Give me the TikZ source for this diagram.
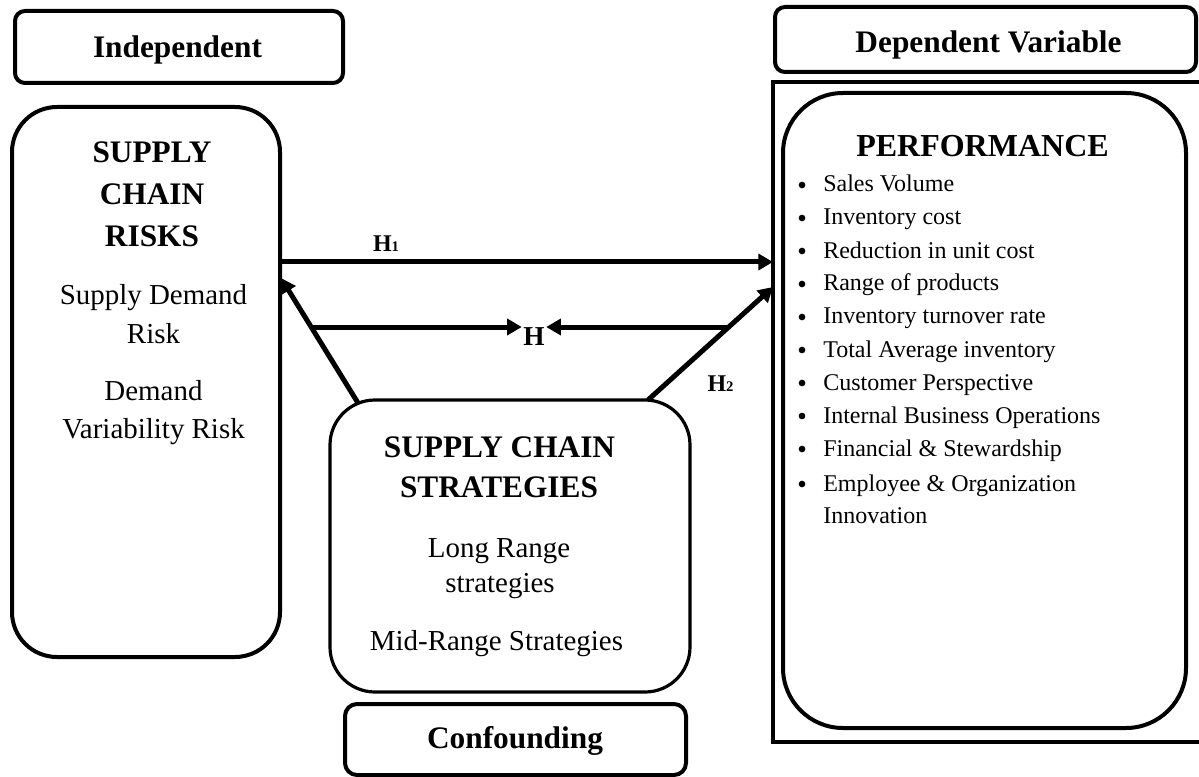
\documentclass[tikz,border=0pt]{standalone}
\usepackage{fontspec}
\setmainfont{Liberation Serif}
\usetikzlibrary{calc,arrows.meta}
\begin{document}
\begin{tikzpicture}[x=0.75pt,y=-0.75pt,
  box/.style={draw,line width=3pt,inner sep=0pt,outer sep=0pt,rectangle},
  thinbox/.style={box,line width=2.4pt},
  frameline/.style={line width=3pt},
  arr/.style={line width=3.75pt,-{Triangle[length=11pt,width=12pt]}},
  head/.style={font=\fontsize{23.5}{28}\selectfont\bfseries,anchor=base,inner sep=0pt},
  body/.style={font=\fontsize{21.7}{26}\selectfont,anchor=base,inner sep=0pt},
  itemtxt/.style={font=\fontsize{18}{22}\selectfont,anchor=base west,inner sep=0pt},
  bul/.style={circle,fill,inner sep=0pt,minimum size=5pt},
  lab/.style={font=\fontsize{18}{20}\selectfont\bfseries,anchor=base,inner sep=1pt},
  hlabel/.style={font=\fontsize{20.5}{22}\selectfont\bfseries,anchor=base,inner sep=1pt}]
\useasboundingbox (0,0) rectangle (1199,777);
% boxes
\node[box,rounded corners=7.5pt,minimum width=246pt,minimum height=54pt] (indep) at (179,47) {};
\node[box,rounded corners=33.75pt,minimum width=201pt,minimum height=412.5pt] (risks) at (146,382) {};
\node[box,rounded corners=7.5pt,minimum width=315.75pt,minimum height=48.75pt] (dep) at (985.5,39.5) {};
\node[inner sep=0pt,outer sep=0pt,minimum width=324pt,minimum height=495pt] (frame) at (989,412) {};
\draw[frameline] (frame.north east) -- (frame.north west) -- (frame.south west) -- (frame.south east);
\node[box,rounded corners=45pt,minimum width=302.25pt,minimum height=476.25pt] (perf) at (984.5,410.5) {};
\node[thinbox,rounded corners=33.75pt,minimum width=270pt,minimum height=219pt] (strat) at (510,546) {};
\node[box,rounded corners=9pt,minimum width=255.75pt,minimum height=53.25pt] (conf) at (515.5,739.5) {};
% texts
\node[head] (tindep) at (177.5,58) {Independent};
\node[head] (tdep) at (988.5,53) {Dependent Variable};
\node[head,font=\fontsize{24}{28}\selectfont\bfseries] (tperf) at (982.5,157) {PERFORMANCE};
\node[head] (r1) at (152,163) {SUPPLY};
\node[head] (r2) at (152,205) {CHAIN};
\node[head] (r3) at (152,247) {RISKS};
\node[body] (r4) at (153.5,305) {Supply Demand};
\node[body] (r5) at (153.5,343) {Risk};
\node[body] (r6) at (153.5,400) {Demand};
\node[body] (r7) at (153.5,438) {Variability Risk};
\node[head] (s1t) at (499.5,457) {SUPPLY CHAIN};
\node[head] (s2t) at (499,497) {STRATEGIES};
\node[body] (s3t) at (499,557) {Long Range};
\node[body] (s4t) at (500,592) {strategies};
\node[body] (s5t) at (496.5,650) {Mid-Range Strategies};
\node[head] (tconf) at (515,748) {Confounding};
% list
\foreach \t/\y [count=\i] in {Sales Volume/192,Inventory cost/225,Reduction in unit cost/258,Range of products/291,Inventory turnover rate/324,Total Average inventory/357,Customer Perspective/390,Internal Business Operations/423,Financial \& Stewardship/456,Employee \& Organization/491}{
  \node[bul] (b\i) at (802,\y-7) {};
  \node[itemtxt] (it\i) at (823,\y) {\t};
}
\node[itemtxt] (it11) at (823,523) {Innovation};
% labels
\node[lab] (h1) at (386,252) {H{\fontsize{11}{12}\selectfont 1}};
\node[lab] (h2) at (720.5,391) {H{\fontsize{11}{12}\selectfont 2}};
\node[hlabel] (hlab) at (534,345) {H};
% connectors
\coordinate (sa) at ($(strat.north west)+(28,3)$);
\coordinate (ta) at ($(risks.north east)+(1,171)$);
\coordinate (sb) at ($(strat.north east)+(-42,0)$);
\coordinate (tb) at (frame.west |- 0,287);
\coordinate (la) at ($(sa)!0.608!(ta)$);
\coordinate (lb) at ($(sb)!0.646!(tb)$);
\draw[arr] (risks.east |- 0,262) -- (frame.west |- 0,262);
\draw[arr] (sa) -- (ta);
\draw[arr] (sb) -- (tb);
\draw[arr] (la) -- (hlab.west |- la);
\draw[arr] (lb) -- (hlab.east |- lb);
\end{tikzpicture}
\end{document}
